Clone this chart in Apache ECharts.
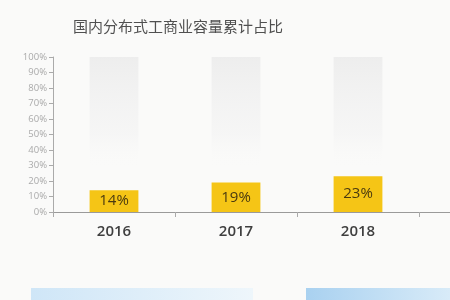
<!DOCTYPE html>
<html><head><meta charset="utf-8">
<script src="https://cdn.jsdelivr.net/npm/echarts@6/dist/echarts.min.js"></script>
<style>html,body{margin:0;padding:0;background:#fafaf9}#c{width:450px;height:300px}</style>
</head><body><div id="c"></div>
<script>
var categories = ['2016', '2017', '2018'];
var shareValues = [14, 19, 23];
var yTicks = [0, 10, 20, 30, 40, 50, 60, 70, 80, 90, 100];
var title = '国内分布式工商业容量累计占比';

var chart = echarts.init(document.getElementById('c'));
chart.setOption({
  backgroundColor: '#fafaf9',
  animation: false,
  title: {
    text: title, left: 68, top: 14,
    textStyle: { fontSize: 15, fontWeight: 'normal', color: '#505050', fontFamily: 'Noto Sans CJK SC' }
  },
  grid: { left: 53, right: 31, top: 57, bottom: 88 },
  xAxis: {
    type: 'category', data: categories,
    axisLine: { lineStyle: { color: '#9a9a9a', width: 1 } },
    axisTick: { show: true, length: 5, lineStyle: { color: '#aaa' } },
    axisLabel: { margin: 12, fontSize: 15, color: '#3f3f3f', fontFamily: 'Open Sans', fontWeight: 600 }
  },
  yAxis: {
    type: 'value', min: yTicks[0], max: yTicks[yTicks.length - 1], interval: 10,
    axisLine: { show: true, lineStyle: { color: '#aaa' } },
    axisTick: { show: true, length: 4, lineStyle: { color: '#aaa' } },
    splitLine: { show: false },
    axisLabel: { formatter: '{value}%', fontSize: 9.5, color: '#aaa', margin: 6, fontFamily: 'Open Sans' }
  },
  series: [{
    type: 'bar', data: shareValues, barWidth: '40%',
    itemStyle: { color: '#f5c516' },
    showBackground: true,
    backgroundStyle: {
      color: new echarts.graphic.LinearGradient(0, 0, 0, 1, [
        { offset: 0, color: 'rgba(236,236,236,0.9)' },
        { offset: 0.5, color: 'rgba(243,243,243,0.6)' },
        { offset: 0.72, color: 'rgba(250,250,249,0)' },
        { offset: 1, color: 'rgba(250,250,249,0)' }
      ])
    },
    label: {
      show: true, position: 'inside', formatter: '{c}%',
      fontSize: 15, color: '#4a3a10', fontFamily: 'Open Sans'
    }
  }],
  graphic: [
    { type: 'line', shape: { x1: 419, y1: 212.5, x2: 450, y2: 212.5 }, style: { stroke: '#9a9a9a', lineWidth: 1 } },
    { type: 'rect', shape: { x: 31, y: 288, width: 222, height: 12 },
      style: { fill: new echarts.graphic.LinearGradient(0, 0, 1, 0, [
        { offset: 0, color: '#cfe6f7' }, { offset: 1, color: '#eef6fb' }]) } },
    { type: 'rect', shape: { x: 306, y: 288, width: 144, height: 12 },
      style: { fill: new echarts.graphic.LinearGradient(0, 0, 1, 0, [
        { offset: 0, color: '#a9d1f0' }, { offset: 1, color: '#d8ebf8' }]) } }
  ]
});
</script></body></html>
